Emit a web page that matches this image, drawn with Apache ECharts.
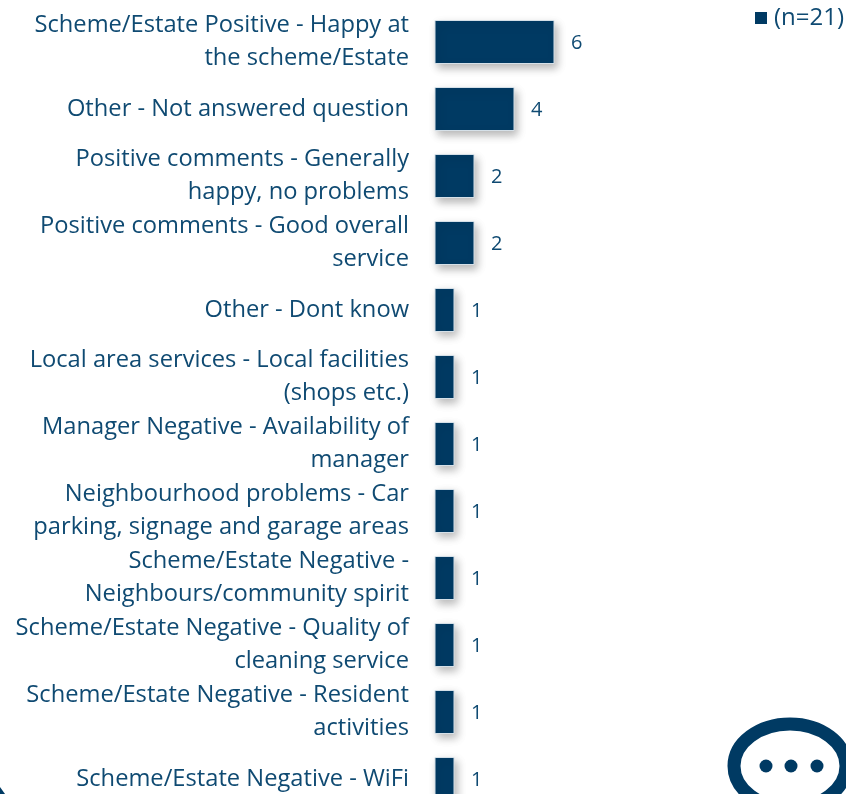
<!DOCTYPE html>
<html>
<head>
<meta charset="utf-8">
<style>
  html, body { margin: 0; padding: 0; background: #fff; overflow: hidden; }
  #chart { width: 846px; height: 794px; }
</style>
<script src="https://cdn.jsdelivr.net/npm/echarts@6/dist/echarts.min.js"></script>
</head>
<body>
<div id="chart"></div>
<script>
const categories = [
  'Scheme/Estate Positive - Happy at\nthe scheme/Estate',
  'Other - Not answered question',
  'Positive comments - Generally\nhappy, no problems',
  'Positive comments - Good overall\nservice',
  'Other - Dont know',
  'Local area services - Local facilities\n(shops etc.)',
  'Manager Negative - Availability of\nmanager',
  'Neighbourhood problems - Car\nparking, signage and garage areas',
  'Scheme/Estate Negative -\nNeighbours/community spirit',
  'Scheme/Estate Negative - Quality of\ncleaning service',
  'Scheme/Estate Negative - Resident\nactivities',
  'Scheme/Estate Negative - WiFi'
]
const values = [6, 4, 2, 2, 1, 1, 1, 1, 1, 1, 1, 1]
const seriesName = '(n=21)'

const barColor = '#003a63'
const textColor = '#0f4a72'
const fontFamily = '"Open Sans", sans-serif'

const chart = echarts.init(document.getElementById('chart'), null, { renderer: 'canvas' })
const option = {
  animation: false,
  backgroundColor: '#fff',
  legend: {
    left: 755,
    top: 6,
    padding: 0,
    itemWidth: 12,
    itemHeight: 12,
    itemGap: 0,
    icon: 'rect',
    itemStyle: { borderWidth: 0, shadowBlur: 0, shadowOffsetX: 0, shadowOffsetY: 0 },
    data: [seriesName],
    textStyle: { color: textColor, fontFamily: fontFamily, fontSize: 24, padding: [10, 0, 0, 2] }
  },
  grid: { left: 434.5, top: 8.5, width: 120, height: 804, outerBoundsMode: 'none' },
  xAxis: { type: 'value', min: 0, max: 6, show: false },
  yAxis: {
    type: 'category',
    inverse: true,
    data: categories,
    axisLine: { show: false },
    axisTick: { show: false },
    axisLabel: {
      margin: 25.5,
      align: 'right',
      color: textColor,
      fontFamily: fontFamily,
      fontSize: 23.7,
      lineHeight: 33,
      padding: [4, 0, 0, 0],
      interval: 0
    }
  },
  series: [{
    name: seriesName,
    type: 'bar',
    data: values,
    barWidth: 44,
    itemStyle: {
      color: barColor,
      borderColor: '#d5e0e8',
      borderWidth: 1,
      shadowColor: 'rgba(0,0,0,0.28)',
      shadowBlur: 8,
      shadowOffsetX: 3,
      shadowOffsetY: 4
    },
    label: {
      show: true,
      position: 'right',
      distance: 16.5,
      offset: [0, 1.5],
      color: textColor,
      fontFamily: fontFamily,
      fontSize: 20
    }
  }],
  graphic: [
    {
      type: 'ellipse',
      shape: { cx: 790, cy: 766, rx: 56, ry: 42 },
      style: { fill: 'none', stroke: barColor, lineWidth: 13 }
    },
    { type: 'circle', shape: { cx: 766, cy: 766, r: 6.5 }, style: { fill: barColor } },
    { type: 'circle', shape: { cx: 791, cy: 766, r: 6.5 }, style: { fill: barColor } },
    { type: 'circle', shape: { cx: 817, cy: 766, r: 6.5 }, style: { fill: barColor } },
    {
      type: 'polygon',
      shape: { points: [[0, 787], [5, 794], [0, 794]] },
      style: { fill: barColor }
    }
  ]
}
chart.setOption(option)
</script>
</body>
</html>
